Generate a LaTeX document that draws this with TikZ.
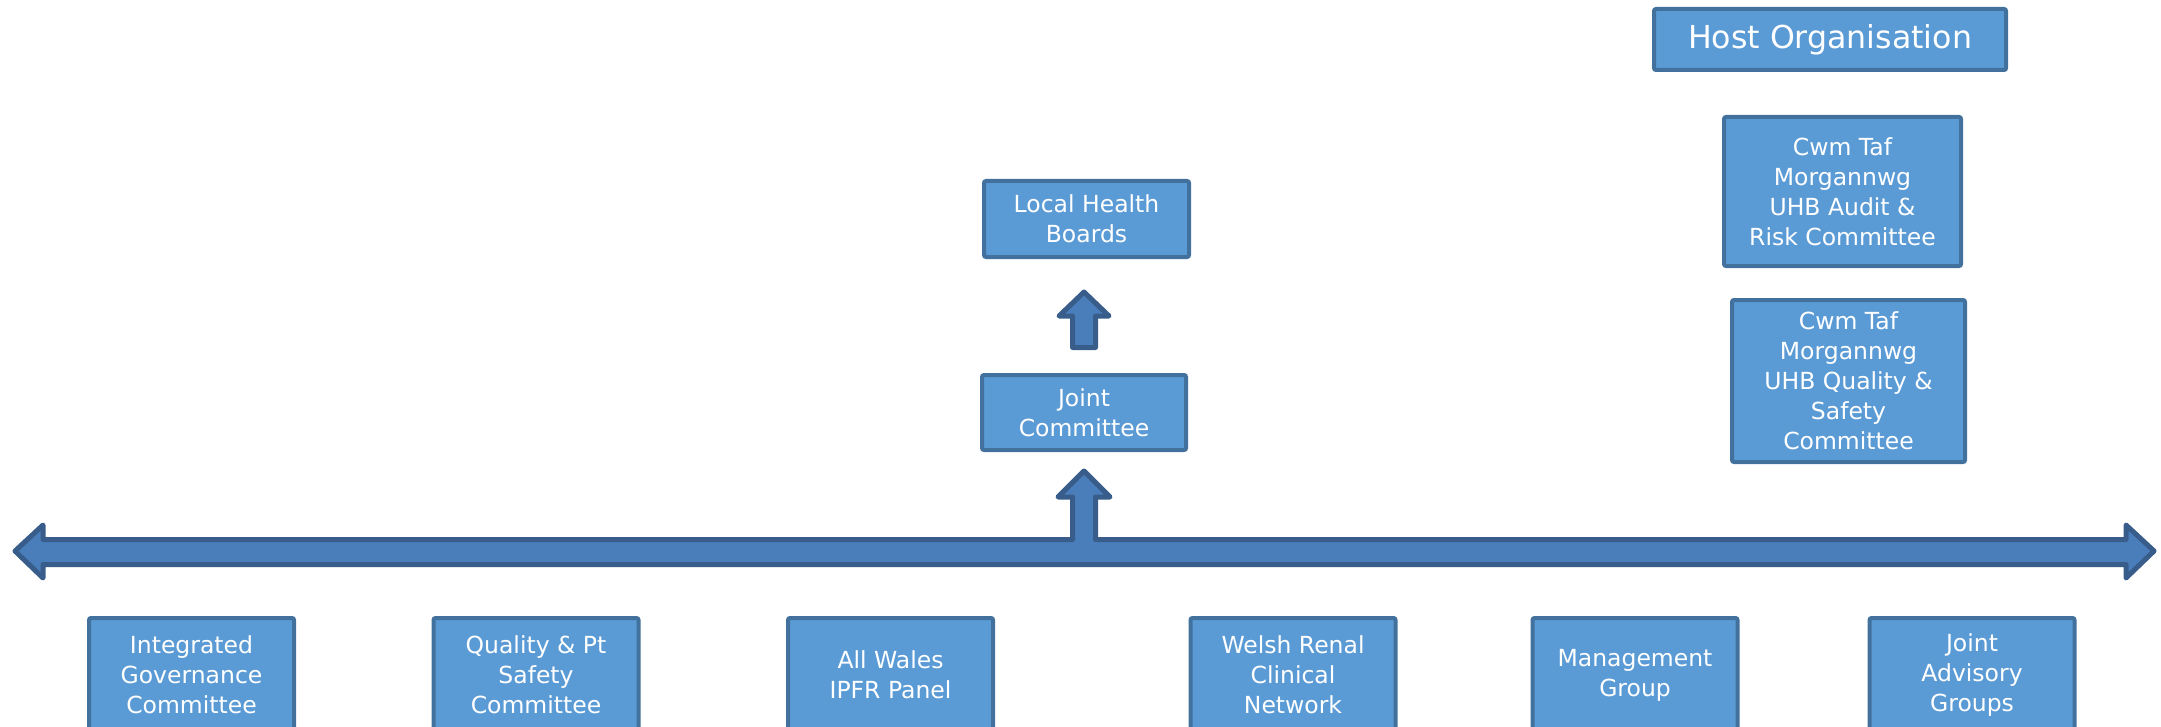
\documentclass[tikz,border=0pt]{standalone}
\usepackage{fontspec}
\setmainfont{DejaVu Sans}
\definecolor{boxfill}{HTML}{5B9BD5}
\definecolor{boxline}{HTML}{41719C}
\definecolor{arrowfill}{HTML}{4A7EBB}
\definecolor{arrowline}{HTML}{385D8A}
\tikzset{
  box/.style={draw=boxline, fill=boxfill, line width=2pt, rounded corners=1pt, text=white, align=center, inner sep=0pt, font=\fontsize{11.75pt}{15pt}\selectfont},
  blockarrow/.style={draw=arrowline, fill=arrowfill, line width=2.5pt, line join=round}
}

\begin{document}
\begin{tikzpicture}[x=0.5pt, y=-0.5pt]
\useasboundingbox (0,0) rectangle (2161,727);
\clip (0,0) rectangle (2161,727);

\node[box, minimum width=176pt, minimum height=30.5pt, font=\fontsize{15.8pt}{19pt}\selectfont] (host) at (1830,39.5) {Host Organisation};
\node[box, minimum width=118.5pt, minimum height=74.5pt] (audit) at (1842.5,191.5) {Cwm Taf\\Morgannwg\\UHB Audit \&\\Risk Committee};
\node[box, minimum width=116.5pt, minimum height=81pt] (qsc) at (1848.5,381) {Cwm Taf\\Morgannwg\\UHB Quality \&\\Safety\\Committee};

\node[box, minimum width=102.5pt, minimum height=38pt] (lhb) at (1086.5,219) {Local Health\\Boards};
\node[box, minimum width=102pt, minimum height=37.5pt] (jc) at (1084,412.5) {Joint\\Committee};

% arrow from joint committee up to the health boards
\draw[blockarrow] (1084,292)--(1109,316)--(1095.5,316)--(1095.5,347.5)--(1072.5,347.5)--(1072.5,316)--(1059,316)--cycle;

% the long double arrow with its branch up to the joint committee
\draw[blockarrow] (15,551)--(43,525)--(43,539.5)--(1072.5,539.5)--(1072.5,497)--(1058,497)--(1084,471)--(1110,497)--(1095.5,497)--(1095.5,539.5)--(2126,539.5)--(2126,525)--(2154,551)--(2126,578)--(2126,564.5)--(43,564.5)--(43,578)--cycle;

\foreach \x/\name/\txt in {191.5/igc/{Integrated\\Governance\\Committee},536/qps/{Quality \& Pt\\Safety\\Committee},890.5/ipfr/{All Wales\\IPFR Panel},1293/wrcn/{Welsh Renal\\Clinical\\Network},1635/mg/{Management\\Group},1972/jag/{Joint\\Advisory\\Groups}}
{
    \node[box, minimum width=102.5pt, minimum height=57pt] (\name) at (\x,675) {\txt};
}

\end{tikzpicture}
\end{document}
